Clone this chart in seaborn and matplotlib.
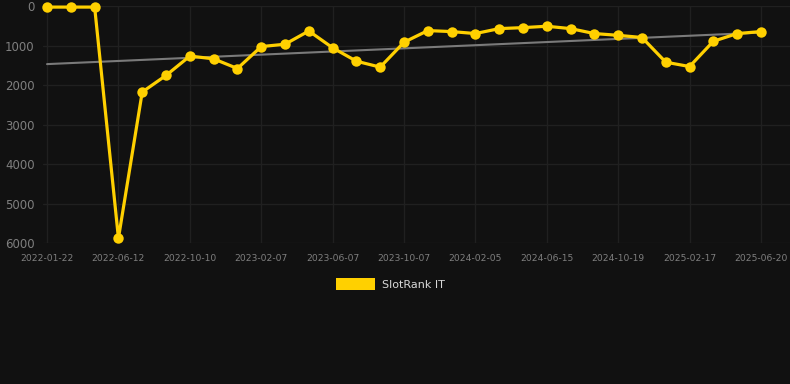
import numpy as np
import pandas as pd
import matplotlib
matplotlib.use("Agg")
import matplotlib.pyplot as plt
import seaborn as sns
from matplotlib.patches import Rectangle

# ---- data ----
tick_labels = ["2022-01-22", "2022-06-12", "2022-10-10", "2023-02-07", "2023-06-07",
               "2023-10-07", "2024-02-05", "2024-06-15", "2024-10-19", "2025-02-17",
               "2025-06-20"]
rank_values = [20, 20, 20, 5870, 2170, 1750, 1260, 1330, 1575, 1020, 960,
               625, 1050, 1390, 1540, 910, 615, 640, 690, 565, 540,
               505, 565, 690, 735, 790, 1415, 1525, 885, 690, 640]
series_name = "SlotRank IT"

idx = np.arange(len(rank_values))
df = pd.DataFrame({"idx": idx, "rank": rank_values})
slope, intercept = np.polyfit(idx, rank_values, 1)
df["trend"] = intercept + slope * idx

# ---- style ----
bg = "#111111"
sns.set_theme(style="dark")
plt.rcParams["font.family"] = ["DejaVu Sans"]

fig = plt.figure(figsize=(7.9, 3.84), dpi=100, facecolor=bg)
ax = fig.add_axes([43 / 790, 1 - 243.3 / 384, 1 - 43 / 790, (243.3 - 6.3) / 384])
ax.set_facecolor(bg)

sns.lineplot(data=df, x="idx", y="trend", ax=ax, color="#7a7a7a", linewidth=1.5)
sns.lineplot(data=df, x="idx", y="rank", ax=ax, color="#FFD000", linewidth=2.3,
             marker="o", markersize=7.5, markeredgewidth=0, clip_on=False)

ax.set_xlim(-0.17, 31.22)
ax.set_ylim(6000, 0)
ax.set_xticks(idx[::3])
ax.set_xticklabels(tick_labels)
ax.set_yticks([0, 1000, 2000, 3000, 4000, 5000, 6000])
ax.set_yticklabels(["0", "1000", "2000", "3000", "4000", "5000", "6000"])
ax.tick_params(axis="y", colors="#7f7f7f", labelsize=8.5, length=0, pad=6)
ax.tick_params(axis="x", colors="#7f7f7f", labelsize=6.6, length=0, pad=8)
ax.set_xlabel("")
ax.set_ylabel("")
ax.grid(True, color="#202020", linewidth=1.0)
for s in ax.spines.values():
    s.set_visible(False)

# legend
fig.patches.append(Rectangle((336 / 790, 1 - 290 / 384), 39 / 790, 12 / 384,
                             transform=fig.transFigure, facecolor="#FFD000",
                             edgecolor="none"))
fig.text(382 / 790, 1 - 284.5 / 384, series_name, color="#d8d8d8", fontsize=8,
         va="center", ha="left")

fig.savefig("out.png", dpi=100, facecolor=bg)
